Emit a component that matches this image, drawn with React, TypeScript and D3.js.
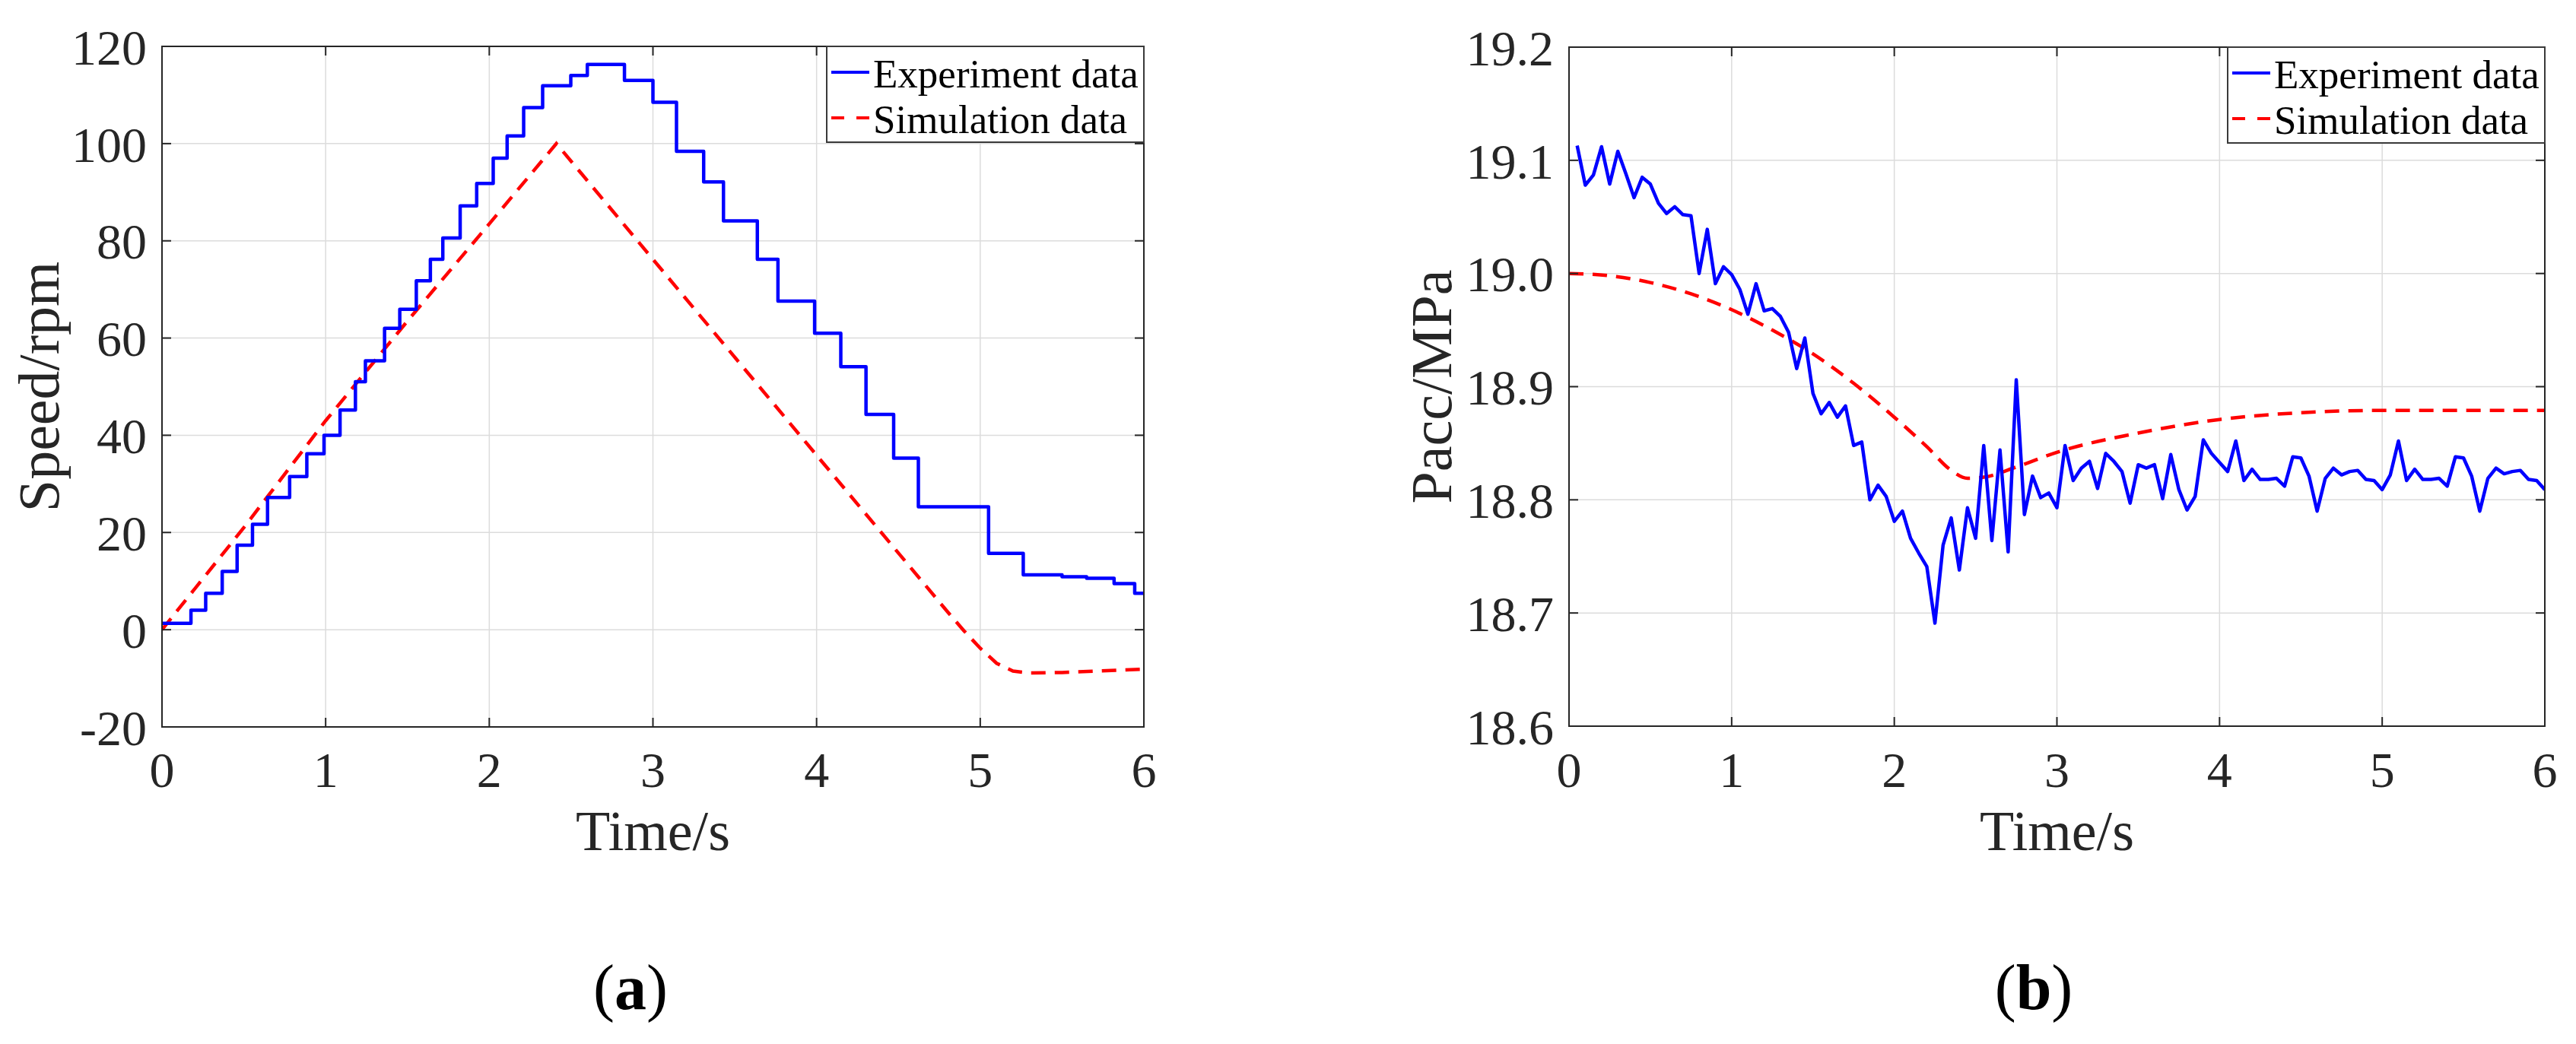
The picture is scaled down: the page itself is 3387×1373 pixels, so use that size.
import React from 'react';
import * as d3 from 'd3';

// ---------- data ----------
const timeTicks = [0, 1, 2, 3, 4, 5, 6];
const speedTicks = [-20, 0, 20, 40, 60, 80, 100, 120];
const pressureTicks = [18.6, 18.7, 18.8, 18.9, 19.0, 19.1, 19.2];

const seriesNames = ['Experiment data', 'Simulation data'];

// (a) speed: experiment is a staircase (step start time, level)
const speedExpT = [0, 0.177, 0.267, 0.368, 0.459, 0.553, 0.645, 0.78, 0.885, 0.99, 1.088, 1.182, 1.243, 1.36, 1.453, 1.554, 1.64, 1.716, 1.822, 1.923, 2.024, 2.109, 2.21, 2.326, 2.498, 2.599, 2.826, 3.0, 3.144, 3.31, 3.431, 3.638, 3.764, 3.988, 4.148, 4.302, 4.471, 4.622, 5.051, 5.263, 5.5, 5.65, 5.818, 5.944, 6.0];
const speedExpV = [1.3, 4, 7.5, 12, 17.4, 21.7, 27.2, 31.5, 36.2, 40, 45.2, 51, 55.3, 62, 65.9, 71.8, 76.2, 80.6, 87.2, 91.8, 97, 101.6, 107.4, 111.9, 114, 116.3, 113, 108.5, 98.4, 92.1, 84.1, 76.2, 67.6, 61, 54.1, 44.3, 35.3, 25.3, 15.7, 11.3, 10.9, 10.6, 9.5, 7.5, 7.5];

const speedSimT = [0, 0.5, 1, 1.5, 2, 2.41, 3, 4, 4.8, 4.9, 5.0, 5.1, 5.2, 5.3, 5.5, 6];
const speedSimV = [0, 21, 43, 63.5, 83.5, 100, 76.2, 35.9, 3.7, -0.2, -3.8, -6.9, -8.5, -8.9, -8.8, -8.1];

// (b) accumulator pressure
const pressExpStart = 0.05;
const pressExpStep = 0.05;
const pressExpV = [
  19.113, 19.078, 19.087, 19.112, 19.079, 19.108, 19.088, 19.067, 19.085, 19.079,
  19.062, 19.053, 19.059, 19.052, 19.051, 19.000, 19.039, 18.991, 19.006, 18.999,
  18.986, 18.964, 18.991, 18.967, 18.969, 18.962, 18.948, 18.916, 18.943, 18.894,
  18.876, 18.886, 18.873, 18.883, 18.848, 18.851, 18.800, 18.813, 18.803, 18.781,
  18.790, 18.766, 18.753, 18.741, 18.691, 18.760, 18.784, 18.738, 18.793, 18.766,
  18.848, 18.764, 18.844, 18.754, 18.906, 18.787, 18.821, 18.802, 18.806, 18.793,
  18.848, 18.817, 18.828, 18.834, 18.810, 18.841, 18.834, 18.825, 18.797, 18.831,
  18.828, 18.831, 18.801, 18.840, 18.809, 18.791, 18.803, 18.853, 18.841, 18.833,
  18.825, 18.852, 18.817, 18.827, 18.818, 18.818, 18.819, 18.812, 18.838, 18.837,
  18.821, 18.790, 18.819, 18.828, 18.822, 18.825, 18.826, 18.818, 18.817, 18.809,
  18.822, 18.852, 18.817, 18.827, 18.818, 18.818, 18.819, 18.812, 18.838, 18.837,
  18.821, 18.790, 18.819, 18.828, 18.823, 18.825, 18.826, 18.818, 18.817, 18.809,
];

const pressSimT = [0, 0.25, 0.5, 0.75, 1.0, 1.25, 1.5, 1.75, 2.0, 2.2, 2.35, 2.45, 2.55, 2.75, 3.0, 3.5, 4.0, 4.5, 5.0, 6.0];
const pressSimV = [19.0, 18.998, 18.992, 18.982, 18.968, 18.95, 18.929, 18.903, 18.873, 18.847, 18.826, 18.819, 18.82, 18.829, 18.842, 18.859, 18.871, 18.877, 18.879, 18.879];

// ---------- styling ----------
const FONT = '"Liberation Serif", "Times New Roman", "DejaVu Serif", serif';
const AX = '#262626';
const GRID = '#dcdcdc';
const BLUE = '#0000ff';
const RED = '#ff0000';

type Pt = [number, number];

interface PanelProps {
  left: number; right: number; top: number; bottom: number;
  yDomain: [number, number];
  yTicks: number[];
  yFmt: (v: number) => string;
  yLabel: string;
  yLabelX: number;
  exp: Pt[];
  expStep: boolean;
  expWidth: number;
  sim: Pt[];
  simSmooth: boolean;
  tag: string;
  tagX: number;
}

function Panel(p: PanelProps) {
  const x = d3.scaleLinear().domain([0, 6]).range([p.left, p.right]);
  const y = d3.scaleLinear().domain(p.yDomain).range([p.bottom, p.top]);
  const expLine = d3.line<Pt>().x(d => x(d[0])).y(d => y(d[1]))
    .curve(p.expStep ? d3.curveStepAfter : d3.curveLinear);
  const simLine = d3.line<Pt>().x(d => x(d[0])).y(d => y(d[1]))
    .curve(p.simSmooth ? d3.curveMonotoneX : d3.curveLinear);
  const tl = 12;
  const clipId = 'clip-' + p.tag;
  const cx = (p.left + p.right) / 2;
  const cy = (p.top + p.bottom) / 2;
  // legend
  const lgW = 417, lgH = 126;
  const lgX = p.right - lgW, lgY = p.top;
  return (
    <g>
      <defs>
        <clipPath id={clipId}>
          <rect x={p.left} y={p.top} width={p.right - p.left} height={p.bottom - p.top} />
        </clipPath>
      </defs>
      <rect x={p.left} y={p.top} width={p.right - p.left} height={p.bottom - p.top} fill="#fff" />
      {/* grid */}
      {timeTicks.map(t => (
        <line key={'gx' + t} x1={x(t)} x2={x(t)} y1={p.top} y2={p.bottom} stroke={GRID} strokeWidth={1.5} />
      ))}
      {p.yTicks.map(v => (
        <line key={'gy' + v} x1={p.left} x2={p.right} y1={y(v)} y2={y(v)} stroke={GRID} strokeWidth={1.5} />
      ))}
      {/* data */}
      <g clipPath={`url(#${clipId})`}>
        <path d={simLine(p.sim) || ''} fill="none" stroke={RED} strokeWidth={4.5} strokeDasharray="19,12" />
        <path d={expLine(p.exp) || ''} fill="none" stroke={BLUE} strokeWidth={p.expWidth} strokeLinejoin="round" />
      </g>
      {/* ticks */}
      {timeTicks.map(t => (
        <g key={'tx' + t}>
          <line x1={x(t)} x2={x(t)} y1={p.bottom} y2={p.bottom - tl} stroke={AX} strokeWidth={2} />
          <line x1={x(t)} x2={x(t)} y1={p.top} y2={p.top + tl} stroke={AX} strokeWidth={2} />
          <text x={x(t)} y={1035} textAnchor="middle" fontFamily={FONT} fontSize={66} fill={AX}>{t}</text>
        </g>
      ))}
      {p.yTicks.map(v => (
        <g key={'ty' + v}>
          <line x1={p.left} x2={p.left + tl} y1={y(v)} y2={y(v)} stroke={AX} strokeWidth={2} />
          <line x1={p.right} x2={p.right - tl} y1={y(v)} y2={y(v)} stroke={AX} strokeWidth={2} />
          <text x={p.left - 20} y={y(v)} dy="0.36em" textAnchor="end" fontFamily={FONT} fontSize={66} fill={AX}>{p.yFmt(v)}</text>
        </g>
      ))}
      {/* box */}
      <rect x={p.left} y={p.top} width={p.right - p.left} height={p.bottom - p.top} fill="none" stroke={AX} strokeWidth={2} />
      {/* legend */}
      <rect x={lgX} y={lgY} width={lgW} height={lgH} fill="#fff" stroke="#3a3a3a" strokeWidth={2} />
      <line x1={lgX + 6} x2={lgX + 56} y1={lgY + 34} y2={lgY + 34} stroke={BLUE} strokeWidth={4} />
      <line x1={lgX + 6} x2={lgX + 56} y1={lgY + 94} y2={lgY + 94} stroke={RED} strokeWidth={4} strokeDasharray="17,16" />
      <text x={lgX + 61} y={lgY + 54} fontFamily={FONT} fontSize={53} fill="#000">{seriesNames[0]}</text>
      <text x={lgX + 61} y={lgY + 114} fontFamily={FONT} fontSize={53} fill="#000">{seriesNames[1]}</text>
      {/* axis labels */}
      <text x={cx} y={1118} textAnchor="middle" fontFamily={FONT} fontSize={74} fill={AX}>Time/s</text>
      <text x={p.yLabelX} y={cy} textAnchor="middle" fontFamily={FONT} fontSize={76} fill={AX}
        transform={`rotate(-90, ${p.yLabelX}, ${cy})`}>{p.yLabel}</text>
      {/* panel tag */}
      <text x={p.tagX} y={1327} textAnchor="middle" fontFamily={FONT} fontSize={84} fill="#000">
        <tspan>(</tspan><tspan fontWeight="bold">{p.tag}</tspan><tspan>)</tspan>
      </text>
    </g>
  );
}

export default function App() {
  const speedExp: Pt[] = speedExpT.map((t, i) => [t, speedExpV[i]]);
  const speedSim: Pt[] = speedSimT.map((t, i) => [t, speedSimV[i]]);
  const pressExp: Pt[] = pressExpV.map((v, i) => [pressExpStart + i * pressExpStep, v]);
  const pressSim: Pt[] = pressSimT.map((t, i) => [t, pressSimV[i]]);
  return (
    <svg width={3387} height={1373} viewBox="0 0 3387 1373"
      style={{ position: 'absolute', left: 0, top: 0, display: 'block', background: '#fff' }}>
      <rect x={0} y={0} width={3387} height={1373} fill="#fff" />
      <Panel left={213} right={1504} top={61} bottom={956}
        yDomain={[-20, 120]} yTicks={speedTicks} yFmt={v => String(v)}
        yLabel="Speed/rpm" yLabelX={77}
        exp={speedExp} expStep={true} expWidth={4.5}
        sim={speedSim} simSmooth={false}
        tag="a" tagX={829} />
      <Panel left={2063} right={3346} top={62} bottom={955}
        yDomain={[18.6, 19.2]} yTicks={pressureTicks} yFmt={v => v.toFixed(1)}
        yLabel="Pacc/MPa" yLabelX={1908}
        exp={pressExp} expStep={false} expWidth={4.5}
        sim={pressSim} simSmooth={true}
        tag="b" tagX={2674} />
    </svg>
  );
}
